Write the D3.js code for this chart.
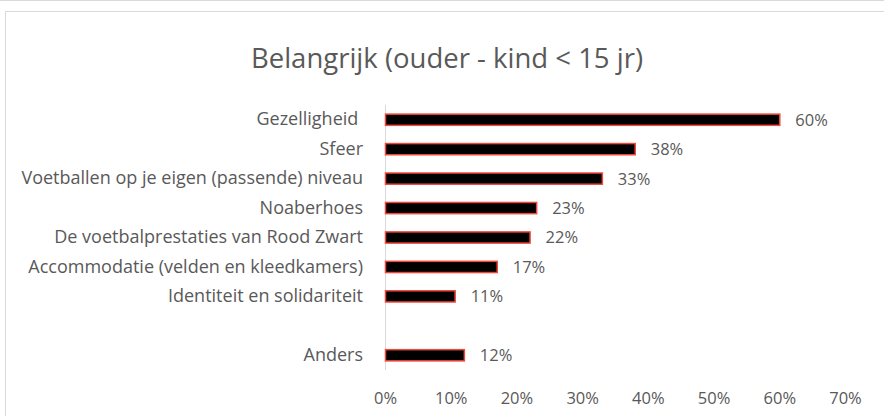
<!DOCTYPE html>
<html>
<head>
<meta charset="utf-8">
<script src="https://cdn.jsdelivr.net/npm/d3@7"></script>
<style>
  body { margin: 0; background: #fff; }
  text { font-family: "Open Sans", "Noto Sans", sans-serif; fill: #595959; }
</style>
</head>
<body>
<svg id="chart" width="884" height="416"></svg>
<script>
// categories top to bottom, "" is the empty slot before "Anders"
const categories = [
  "Gezelligheid ",
  "Sfeer",
  "Voetballen op je eigen (passende) niveau",
  "Noaberhoes",
  "De voetbalprestaties van Rood Zwart",
  "Accommodatie (velden en kleedkamers)",
  "Identiteit en solidariteit",
  "",
  "Anders"
];
const values = [60, 38, 33, 23, 22, 17, 10.6, null, 12];
const tickValues = [0, 10, 20, 30, 40, 50, 60, 70];

const svg = d3.select("#chart");

// outer frame
svg.append("line")
  .attr("x1", 0).attr("x2", 884).attr("y1", 0.5).attr("y2", 0.5)
  .attr("stroke", "#d9d9d9");
svg.append("rect")
  .attr("x", 5.5).attr("y", 11.5).attr("width", 900).attr("height", 420)
  .attr("fill", "none").attr("stroke", "#d9d9d9");

// title
svg.append("text")
  .attr("x", 447).attr("y", 68)
  .attr("text-anchor", "middle")
  .attr("font-size", 27.5)
  .text("Belangrijk (ouder - kind < 15 jr)");

const x = d3.scaleLinear().domain([0, 70]).range([385, 845]);
const y = d3.scaleBand().domain(categories).range([105, 370]).paddingInner(0.62).paddingOuter(0.31);

// vertical axis line
svg.append("line")
  .attr("x1", x(0) + 0.5).attr("x2", x(0) + 0.5)
  .attr("y1", 105).attr("y2", 370)
  .attr("stroke", "#d9d9d9");

// bars
const data = categories.map((c, i) => ({ cat: c, val: values[i] })).filter(d => d.val != null);

svg.append("g")
  .selectAll("rect")
  .data(data)
  .join("rect")
  .attr("x", x(0) + 0.5)
  .attr("y", d => y(d.cat))
  .attr("width", d => x(d.val) - x(0))
  .attr("height", y.bandwidth())
  .attr("fill", "#000")
  .attr("stroke", "#f2463a")
  .attr("stroke-width", 1.5);

// value labels
svg.append("g")
  .selectAll("text")
  .data(data)
  .join("text")
  .attr("x", d => x(d.val) + 16)
  .attr("y", d => y(d.cat) + y.bandwidth() / 2)
  .attr("dy", "0.36em")
  .attr("font-size", 16.5)
  .text(d => Math.round(d.val) + "%");

// category labels
const yAxis = d3.axisLeft(y).tickSize(0).tickPadding(22);
const gy = svg.append("g")
  .attr("transform", `translate(${x(0)},0)`)
  .call(yAxis);
gy.select(".domain").remove();
gy.selectAll("text").attr("font-size", 18).attr("fill", "#595959").attr("font-family", null)
  .style("white-space", "pre");

// x tick labels
const xAxis = d3.axisBottom(x).tickValues(tickValues).tickSize(0).tickPadding(0)
  .tickFormat(d => d + "%");
const gx = svg.append("g")
  .attr("transform", "translate(0,392)")
  .call(xAxis);
gx.select(".domain").remove();
gx.selectAll("text").attr("font-size", 16.5).attr("fill", "#595959").attr("font-family", null);
</script>
</body>
</html>
